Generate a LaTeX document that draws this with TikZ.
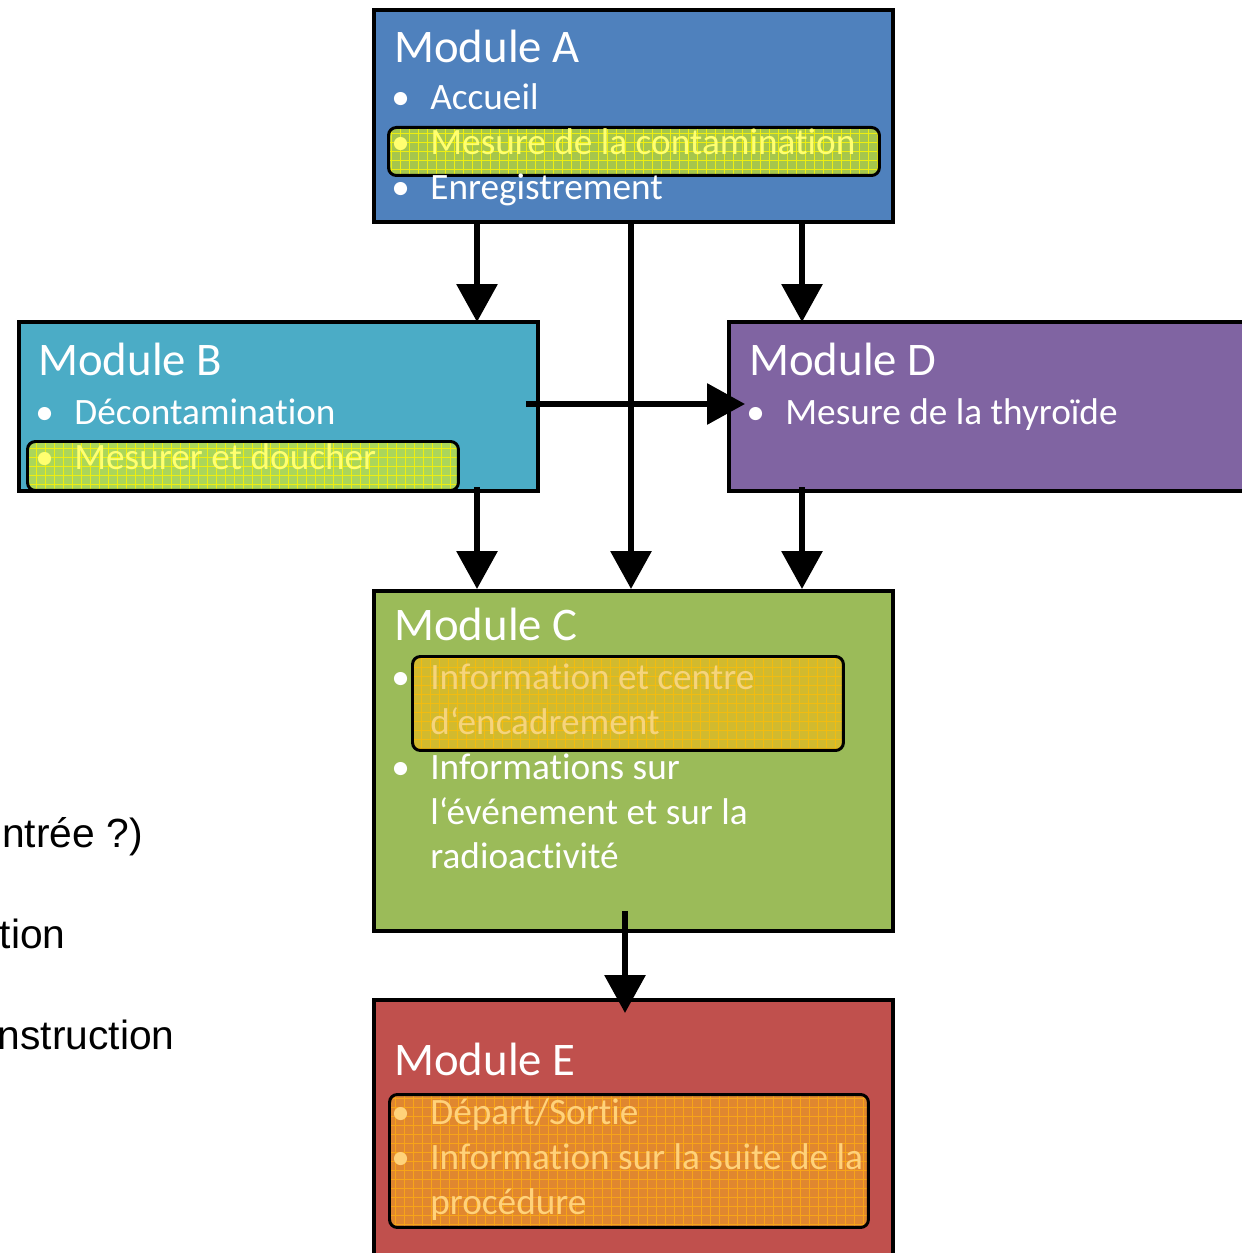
\documentclass[tikz,border=0pt]{standalone}
\usepackage{fontspec}
\setmainfont{Carlito}[Ligatures=NoCommon]
\newfontfamily\arialfont{Liberation Sans}
\usetikzlibrary{arrows.meta,calc,positioning}

\definecolor{colA}{HTML}{4F81BD}
\definecolor{colB}{HTML}{4BACC6}
\definecolor{colC}{HTML}{9BBB59}
\definecolor{colD}{HTML}{8064A2}
\definecolor{colE}{HTML}{C0504D}
\definecolor{hlgreen}{HTML}{A6C64C}
\definecolor{hllime}{HTML}{ABD65A}
\definecolor{hlgold}{HTML}{D2BA2E}
\definecolor{hlorange}{HTML}{E0872F}
\definecolor{gridyellow}{HTML}{EEEE10}
\definecolor{gridgold}{HTML}{F2BC10}
\definecolor{gridorange}{HTML}{F8A418}
\definecolor{txtyellow}{HTML}{FFFF70}
\definecolor{txtgold}{HTML}{F6D47C}
\definecolor{txtorange}{HTML}{FFD27A}

\begin{document}
\begin{tikzpicture}[x=0.02cm,y=-0.02cm,
module/.style={draw,line width=2.3pt,anchor=north west,inner sep=0},
hl/.style={draw,line width=1.7pt,rounded corners=4.5pt,anchor=north west,inner sep=0,
  path picture={\draw[#1,line width=0.4pt,step=0.18cm] (path picture bounding box.south west) grid (path picture bounding box.north east);}},
title/.style={anchor=base west,inner sep=0,text=white,font=\fontsize{26.6}{32}\selectfont},
item/.style={anchor=base west,inner sep=0,text=white,font=\fontsize{21.2}{25}\selectfont},
bul/.style={item,anchor=base west},
side/.style={anchor=base east,inner sep=0,font=\arialfont\fontsize{23.2}{28}\selectfont},
flow/.style={line width=3.4pt,-{Triangle[width=22.8pt,length=21.6pt]}}]
\useasboundingbox (0,0) rectangle (1241,1253);

% modules
\node[module,fill=colA,minimum width=10.38cm,minimum height=4.24cm] (modA) at (372,8) {};
\node[module,fill=colB,minimum width=10.38cm,minimum height=3.38cm] (modB) at (17,320) {};
\node[module,fill=colD,minimum width=11.46cm,minimum height=3.38cm] (modD) at (727,320) {};
\node[module,fill=colC,minimum width=10.38cm,minimum height=6.8cm] (modC) at (372,589) {};
\node[module,fill=colE,minimum width=10.38cm,minimum height=6.04cm] (modE) at (372,998) {};

% highlighted items
\node[hl=gridyellow,fill=hlgreen,minimum width=9.82cm,minimum height=0.96cm] (hlA) at (387,126) {};
\node[hl=gridyellow,fill=hllime,minimum width=8.62cm,minimum height=0.98cm] (hlB) at (26,440) {};
\node[hl=gridgold,fill=hlgold,minimum width=8.62cm,minimum height=1.88cm] (hlC) at (411,655) {};
\node[hl=gridorange,fill=hlorange,minimum width=9.58cm,minimum height=2.66cm] (hlE) at (388,1093) {};

% module A
\node[title] (tA) at (394,63) {Module A};
\node[bul] at (391,110) {•};
\node[item] (a1) at (430,110) {Accueil};
\node[bul,text=txtyellow] at (391,155) {•};
\node[item,text=txtyellow] (a2) at (430,155) {Mesure de la contamination};
\node[bul] at (391,200) {•};
\node[item] (a3) at (430,200) {Enregistrement};

% module B
\node[title] (tB) at (38,375) {Module B};
\node[bul] at (35,424) {•};
\node[item] (b1) at (74,424) {Décontamination};
\node[bul,text=txtyellow] at (35,469) {•};
\node[item,text=txtyellow] (b2) at (74,469) {Mesurer et doucher};

% module D
\node[title] (tD) at (749,375) {Module D};
\node[bul] at (746,424) {•};
\node[item] (d1) at (785,424) {Mesure de la thyroïde};

% module C
\node[title] (tC) at (394,640) {Module C};
\node[bul] at (391,689) {•};
\node[item,text=txtgold] (c1) at (430,689) {Information et centre};
\node[item,text=txtgold] (c2) at (430,734) {d‘encadrement};
\node[bul] at (391,779) {•};
\node[item] (c3) at (430,779) {Informations sur};
\node[item] (c4) at (430,824) {l‘événement et sur la};
\node[item] (c5) at (430,868) {radioactivité};

% module E
\node[title] (tE) at (394,1075) {Module E};
\node[bul,text=txtorange] at (391,1124) {•};
\node[item,text=txtorange] (e1) at (430,1124) {Départ/Sortie};
\node[bul,text=txtorange] at (391,1169) {•};
\node[item,text=txtorange] (e2) at (430,1169) {Information sur la suite de la};
\node[item,text=txtorange] (e3) at (430,1214) {procédure};

% text cut at the left edge
\node[side] (s1) at (143,847) {ntrée ?)};
\node[side] (s2) at (66,948) {tion};
\node[side] (s3) at (175,1049) {nstruction};

% arrows
\coordinate (xl) at (477,0);
\coordinate (xm) at (631,0);
\coordinate (xr) at (802,0);
\coordinate (xe) at (625,0);
\coordinate (yh) at (0,404);
\draw[flow] (modA.south -| xl) -- ($(modB.north -| xl)+(0,2)$);
\draw[flow] (modA.south -| xm) -- (modC.north -| xm);
\draw[flow] (modA.south -| xr) -- ($(modD.north -| xr)+(0,2)$);
\draw[flow] ($(modB.east |- yh)+(-14,0)$) -- ($(modD.west |- yh)+(18,0)$);
\draw[flow] ($(modB.south -| xl)+(0,-6)$) -- (modC.north -| xl);
\draw[flow] ($(modD.south -| xr)+(0,-6)$) -- (modC.north -| xr);
\draw[flow] ($(modC.south -| xe)+(0,-22)$) -- ($(modE.north -| xe)+(0,15)$);
\end{tikzpicture}
\end{document}
